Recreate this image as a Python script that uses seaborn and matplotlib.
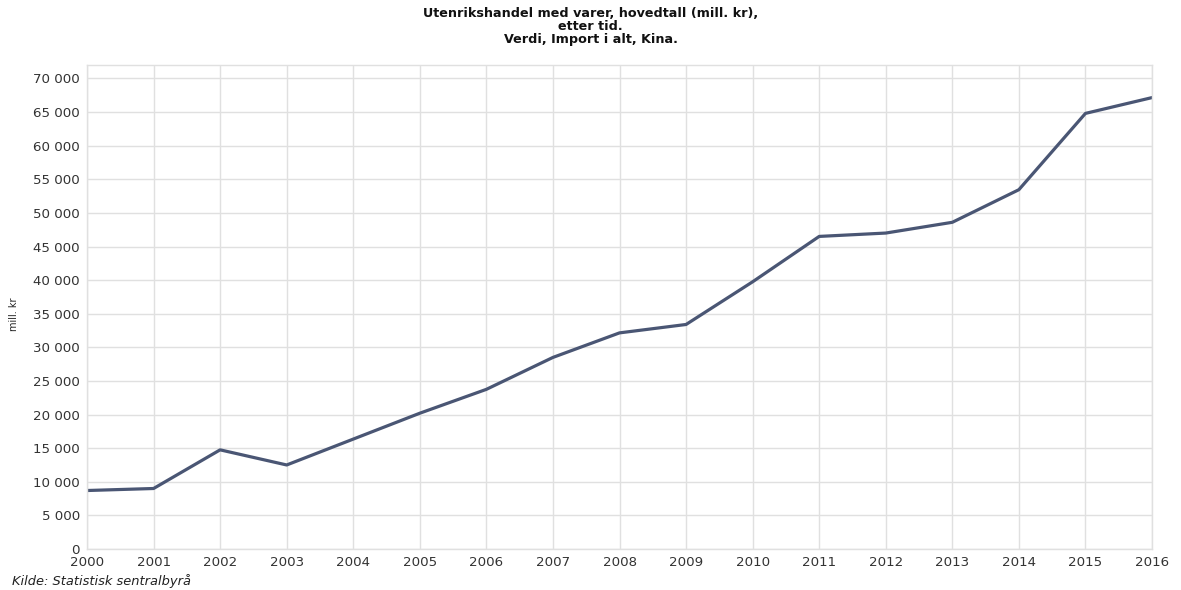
import matplotlib
matplotlib.use("Agg")
import matplotlib.pyplot as plt
import matplotlib.ticker as mticker
import seaborn as sns
import pandas as pd

years = [2000, 2001, 2002, 2003, 2004, 2005, 2006, 2007, 2008,
         2009, 2010, 2011, 2012, 2013, 2014, 2015, 2016]
import_values = [8700, 9000, 14750, 12500, 16350, 20200, 23750, 28500, 32150,
                 33400, 39750, 46500, 47000, 48600, 53450, 64800, 67150]
title_lines = ["Utenrikshandel med varer, hovedtall (mill. kr),",
               "etter tid.",
               "Verdi, Import i alt, Kina."]
y_label = "mill. kr"
source_text = "Kilde: Statistisk sentralbyrå"

df = pd.DataFrame({"year": years, "value": import_values})

sns.set_style("whitegrid")
plt.rcParams["font.family"] = ["DejaVu Sans"]

fig = plt.figure(figsize=(11.81, 5.90), dpi=100)
ax = fig.add_axes([87 / 1181, 1 - 549 / 590, (1152 - 87) / 1181, (549 - 65) / 590])

sns.lineplot(data=df, x="year", y="value", ax=ax, color="#4a5674",
             linewidth=2.3, legend=False)

ax.set_xlim(2000, 2016)
ax.set_ylim(0, 72000)
ax.set_xticks(years)
ax.set_yticks(range(0, 70001, 5000))
ax.yaxis.set_major_formatter(mticker.FuncFormatter(
    lambda v, p: f"{int(v):,}".replace(",", " ")))
ax.tick_params(axis="both", labelsize=9.6, colors="#333333", length=0)
ax.tick_params(axis="x", pad=5)
ax.tick_params(axis="y", pad=5)
ax.grid(True, color="#e0e0e0", linewidth=1)
for s in ax.spines.values():
    s.set_color("#e0e0e0")
    s.set_linewidth(1)

ax.set_xlabel("")
ax.set_ylabel(y_label, fontsize=7, color="#222222")
ax.yaxis.set_label_coords(-0.0635, 0.485)

fig.text(0.5, 1 - 7 / 590, "\n".join(title_lines), ha="center", va="top",
         fontsize=9.2, fontweight="bold", color="#111111", linespacing=1.0)
fig.text(12 / 1181, 1 - 581 / 590, source_text, ha="left", va="center",
         fontsize=9.4, style="italic", color="#222222")

fig.savefig("out.png", dpi=100, facecolor="white")
